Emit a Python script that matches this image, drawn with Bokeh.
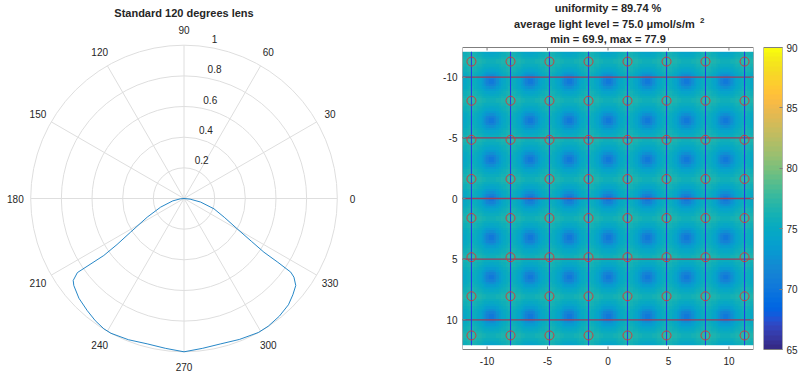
import numpy as np
from bokeh.plotting import figure
from bokeh.layouts import row
from bokeh.models import Range1d, LinearAxis, FixedTicker, LinearColorMapper
from bokeh.core.properties import value
from bokeh.embed import file_html
from bokeh.resources import INLINE

# ---------------- data ----------------
# lens intensity profile (polar plot), angle in degrees, normalised intensity
lens_angle_deg = [180, 186, 192, 200.3, 206.9, 212.2, 214.5, 215.4, 214.8, 216.5, 218.3,
                  223.5, 229.2, 234, 238.4, 241.5, 248.5, 255.8, 263, 270, 277, 284,
                  291.5, 299.1, 303.4, 309, 314.5, 318.5, 322.1, 324.4, 325.4, 325.8,
                  326.1, 327.6, 330.3, 335, 341, 348, 354, 360]
lens_intensity = [0, 0.025, 0.075, 0.163, 0.269, 0.412, 0.53, 0.642, 0.847, 0.899, 0.916,
                  0.945, 0.966, 0.985, 0.998, 1.0, 0.99, 0.978, 0.985, 1.0, 0.985, 0.978,
                  0.988, 1.0, 0.998, 0.988, 0.972, 0.948, 0.924, 0.882, 0.846, 0.74,
                  0.628, 0.52, 0.40, 0.29, 0.207, 0.11, 0.04, 0]
r_ticks = [0.2, 0.4, 0.6, 0.8, 1.0]
r_tick_labels = ["0.2", "0.4", "0.6", "0.8", "1"]
theta_ticks = [0, 30, 60, 90, 120, 150, 180, 210, 240, 270, 300, 330]

# light map
lamp_x = [-11.29, -8.06, -4.84, -1.61, 1.61, 4.84, 8.06, 11.29]
lamp_y = [-11.29, -8.06, -4.84, -1.61, 1.61, 4.84, 8.06, 11.29]
rail_y = [-10, -5, 0, 5, 10]
# light level (umol/s/m2) in one quarter of a lamp-to-lamp period;
# row/column 0 is next to the centre of the square between four lamps,
# row/column 7 is next to a lamp
cell_quarter = [
    [70.15, 70.90, 72.10, 73.25, 74.10, 74.75, 75.25, 75.75],
    [70.90, 71.55, 72.55, 73.50, 74.25, 74.85, 75.35, 75.80],
    [72.10, 72.55, 73.25, 73.95, 74.50, 75.00, 75.50, 75.95],
    [73.25, 73.50, 73.95, 74.40, 74.85, 75.25, 75.70, 76.15],
    [74.10, 74.25, 74.50, 74.85, 75.20, 75.55, 75.95, 76.40],
    [74.75, 74.85, 75.00, 75.25, 75.55, 75.90, 76.25, 76.70],
    [75.25, 75.35, 75.50, 75.70, 75.95, 76.25, 76.65, 77.10],
    [75.75, 75.80, 75.95, 76.15, 76.40, 76.70, 77.10, 77.55],
]
map_ticks = [-10, -5, 0, 5, 10]
map_tick_labels = ["-10", "-5", "0", "5", "10"]
cbar_ticks = [65, 70, 75, 80, 85, 90]
clim = (65, 90)
uniformity = 89.74
avg_level = 75.0
min_level = 69.9
max_level = 77.9

# parula colormap (style)
parula_rgb = [
    (0.2081, 0.1663, 0.5292), (0.2116, 0.1898, 0.5777), (0.2123, 0.2138, 0.6270), (0.2081, 0.2386, 0.6771),
    (0.1959, 0.2645, 0.7279), (0.1707, 0.2919, 0.7792), (0.1253, 0.3242, 0.8303), (0.0591, 0.3598, 0.8683),
    (0.0117, 0.3875, 0.8820), (0.0060, 0.4086, 0.8828), (0.0165, 0.4266, 0.8786), (0.0329, 0.4430, 0.8720),
    (0.0498, 0.4586, 0.8641), (0.0629, 0.4737, 0.8554), (0.0723, 0.4887, 0.8467), (0.0779, 0.5040, 0.8384),
    (0.0793, 0.5200, 0.8312), (0.0749, 0.5375, 0.8263), (0.0641, 0.5570, 0.8240), (0.0488, 0.5772, 0.8228),
    (0.0343, 0.5966, 0.8199), (0.0265, 0.6137, 0.8135), (0.0239, 0.6287, 0.8038), (0.0231, 0.6418, 0.7913),
    (0.0228, 0.6535, 0.7768), (0.0267, 0.6642, 0.7607), (0.0384, 0.6743, 0.7436), (0.0590, 0.6838, 0.7254),
    (0.0843, 0.6928, 0.7062), (0.1133, 0.7015, 0.6859), (0.1453, 0.7098, 0.6646), (0.1801, 0.7177, 0.6424),
    (0.2178, 0.7250, 0.6193), (0.2586, 0.7317, 0.5954), (0.3022, 0.7376, 0.5712), (0.3482, 0.7424, 0.5473),
    (0.3953, 0.7459, 0.5244), (0.4420, 0.7481, 0.5033), (0.4871, 0.7491, 0.4840), (0.5300, 0.7491, 0.4661),
    (0.5709, 0.7485, 0.4494), (0.6099, 0.7473, 0.4337), (0.6473, 0.7456, 0.4188), (0.6834, 0.7435, 0.4044),
    (0.7184, 0.7411, 0.3905), (0.7525, 0.7384, 0.3768), (0.7858, 0.7356, 0.3633), (0.8185, 0.7327, 0.3498),
    (0.8507, 0.7299, 0.3360), (0.8824, 0.7274, 0.3217), (0.9139, 0.7258, 0.3063), (0.9450, 0.7261, 0.2886),
    (0.9739, 0.7314, 0.2666), (0.9938, 0.7455, 0.2403), (0.9990, 0.7653, 0.2164), (0.9955, 0.7861, 0.1967),
    (0.9880, 0.8066, 0.1794), (0.9789, 0.8271, 0.1633), (0.9697, 0.8481, 0.1475), (0.9626, 0.8705, 0.1309),
    (0.9589, 0.8949, 0.1132), (0.9598, 0.9218, 0.0948), (0.9661, 0.9514, 0.0755), (0.9763, 0.9831, 0.0538),
]
parula = ["#%02x%02x%02x" % tuple(int(round(c * 255)) for c in rgb) for rgb in parula_rgb]

FONT = value("Liberation Sans")
TXT = "#262626"
GRID = "#dedede"
BOXC = "#7f7f7f"

H = 373          # all three figures: frame = full height (no top/bottom borders)
BOX_TOP, BOX_BOT = 47, 349   # page rows of the heat-map box / colour bar

# ---------------- polar plot ----------------
W1, CX, CY, R = 404, 183.5, 198.0, 153.3
p1 = figure(width=W1, height=H, output_backend="svg", toolbar_location=None,
            x_axis_type=None, y_axis_type=None,
            x_range=Range1d(-CX / R, (W1 - CX) / R), y_range=Range1d(-(H - CY) / R, CY / R),
            min_border=0, min_border_left=0, min_border_right=0, min_border_top=0, min_border_bottom=0)
p1.outline_line_color = None
p1.grid.visible = False

th = np.radians(theta_ticks)
p1.circle(x=[0] * len(r_ticks), y=[0] * len(r_ticks), radius=r_ticks,
          fill_color=None, line_color=GRID, line_width=1)
p1.segment(x0=0, y0=0, x1=np.cos(th), y1=np.sin(th), line_color=GRID, line_width=1)

p1.text(x=1.1 * np.cos(th), y=1.1 * np.sin(th), text=[str(t) for t in theta_ticks],
        text_align="center", text_baseline="middle", text_font=FONT,
        text_font_size="10px", text_color=TXT)
ra = np.radians(82)
rt = np.array(r_ticks)
p1.text(x=rt * np.cos(ra) + 6.5 / R, y=rt * np.sin(ra) + 7.8 / R, text=r_tick_labels,
        text_align="left", text_baseline="middle", text_font=FONT,
        text_font_size="10px", text_color=TXT)

la = np.radians(lens_angle_deg)
li = np.array(lens_intensity)
p1.line(x=li * np.cos(la), y=li * np.sin(la), line_color="#0072bd", line_width=1, line_alpha=0.85)

p1.text(x=[0], y=[(CY - 12) / R], text=["Standard 120 degrees lens"], text_align="center",
        text_baseline="middle", text_font=FONT, text_font_size="11px",
        text_font_style="bold", text_color=TXT)

# ---------------- light map ----------------
W2, LB, FW = 356, 58, 291
XL, YL = 12.03, 12.45
sx_scale = FW / (2 * XL)
sy_scale = (BOX_BOT - BOX_TOP) / (2 * YL)
y_top = -YL - BOX_TOP / sy_scale
y_bot = YL + (H - BOX_BOT) / sy_scale
p2 = figure(width=W2, height=H, output_backend="svg", toolbar_location=None,
            x_axis_type=None, y_axis_type=None,
            x_range=Range1d(-XL, XL), y_range=Range1d(y_bot, y_top),
            min_border_left=LB, min_border_right=W2 - LB - FW, min_border_top=0,
            min_border_bottom=0)
p2.outline_line_color = None
p2.grid.visible = False

mapper = LinearColorMapper(palette=parula, low=clim[0], high=clim[1])
s = float(np.mean(np.diff(lamp_x)))
q = np.array(cell_quarter)
nq = len(cell_quarter)
order = list(range(nq - 1, -1, -1)) + list(range(nq))
period = q[np.ix_(order, order)]          # one lamp-to-lamp period, lamp at the corner
nper = period.shape[0]
npx = int(round(7.5 * nper))
idx = (np.arange(npx) - nper // 4) % nper
field = period[np.ix_(idx, idx)]
p2.image(image=[field], x=-3.75 * s, y=-3.75 * s, dw=7.5 * s, dh=7.5 * s, color_mapper=mapper)

img_half = 3.75 * s
p2.segment(x0=-img_half, x1=img_half, y0=rail_y, y1=rail_y, line_color="#9a3d5c", line_width=1.3)
p2.segment(x0=lamp_x, x1=lamp_x, y0=-img_half, y1=img_half, line_color="#1f3ee6", line_width=1.1)
lx, ly = np.meshgrid(lamp_x, lamp_y)
p2.scatter(x=lx.ravel(), y=ly.ravel(), size=9, marker="circle", fill_color=None,
           line_color="#cc3f3f", line_width=1)

p2.quad(left=-XL, right=XL, top=-YL, bottom=YL, fill_color=None, line_color=BOXC, line_width=1)
tk = np.array(map_ticks, dtype=float)
tl = 3.0
p2.segment(x0=tk, x1=tk, y0=-YL, y1=-YL + tl / sy_scale, line_color=BOXC, line_width=1)
p2.segment(x0=tk, x1=tk, y0=YL, y1=YL - tl / sy_scale, line_color=BOXC, line_width=1)
p2.segment(x0=XL, x1=XL - tl / sx_scale, y0=tk, y1=tk, line_color=BOXC, line_width=1)

yax = LinearAxis(ticker=FixedTicker(ticks=map_ticks), major_tick_in=3, major_tick_out=0,
                 axis_line_color=None, major_tick_line_color=BOXC,
                 major_label_overrides=dict(zip(map_ticks, map_tick_labels)),
                 major_label_text_font="Liberation Sans", major_label_text_font_size="10px",
                 major_label_text_color=TXT, major_label_standoff=5)
p2.add_layout(yax, "left")

X0 = LB + FW / 2.0 + W1  # page x of data 0


def dx(sx):
    return (sx - X0) / sx_scale


def dy(sy):
    return -YL - (BOX_TOP - sy) / sy_scale


p2.text(x=tk, y=[dy(360)] * len(tk), text=map_tick_labels, text_align="center",
        text_baseline="middle", text_font=FONT, text_font_size="10px", text_color=TXT)

tkw = dict(text_font=FONT, text_font_style="bold", text_color=TXT, text_baseline="middle")
p2.text(x=[dx(607.5)], y=[dy(7.5)], text=[f"uniformity = {uniformity:.2f} %"],
        text_align="center", text_font_size="11px", **tkw)
p2.text(x=[dx(694.3)], y=[dy(23.5)], text=[f"average light level = {avg_level:.1f} μmol/s/m"],
        text_align="right", text_font_size="11px", **tkw)
p2.text(x=[dx(699.5)], y=[dy(19.5)], text=["2"], text_align="left", text_font_size="8px", **tkw)
p2.text(x=[dx(607.5)], y=[dy(38)], text=[f"min = {min_level:.1f}, max = {max_level:.1f}"],
        text_align="center", text_font_size="11px", **tkw)

# ---------------- colour bar ----------------
W3 = 40
c_scale = (BOX_BOT - BOX_TOP) / (clim[1] - clim[0])
p3 = figure(width=W3, height=H, output_backend="svg", toolbar_location=None,
            x_axis_type=None, y_axis_type=None,
            x_range=Range1d(0, 1),
            y_range=Range1d(clim[0] - (H - BOX_BOT) / c_scale, clim[1] + BOX_TOP / c_scale),
            min_border_left=3, min_border_right=17, min_border_top=0, min_border_bottom=0)
p3.outline_line_color = None
p3.grid.visible = False
ncol = len(parula)
levels = clim[0] + (np.arange(ncol) + 0.5) * (clim[1] - clim[0]) / ncol
p3.image(image=[levels.reshape(-1, 1)], x=0, y=clim[0], dw=1, dh=clim[1] - clim[0],
         color_mapper=mapper)
p3.quad(left=0, right=1, bottom=clim[0], top=clim[1], fill_color=None, line_color=BOXC)
cax = LinearAxis(ticker=FixedTicker(ticks=cbar_ticks), major_tick_in=3, major_tick_out=0,
                 axis_line_color=None, major_tick_line_color=BOXC,
                 major_label_text_font="Liberation Sans", major_label_text_font_size="10px",
                 major_label_text_color=TXT, major_label_standoff=4)
p3.add_layout(cax, "right")

layout = row(p1, p2, p3)
open("out.html", "w").write(file_html(layout, INLINE))
